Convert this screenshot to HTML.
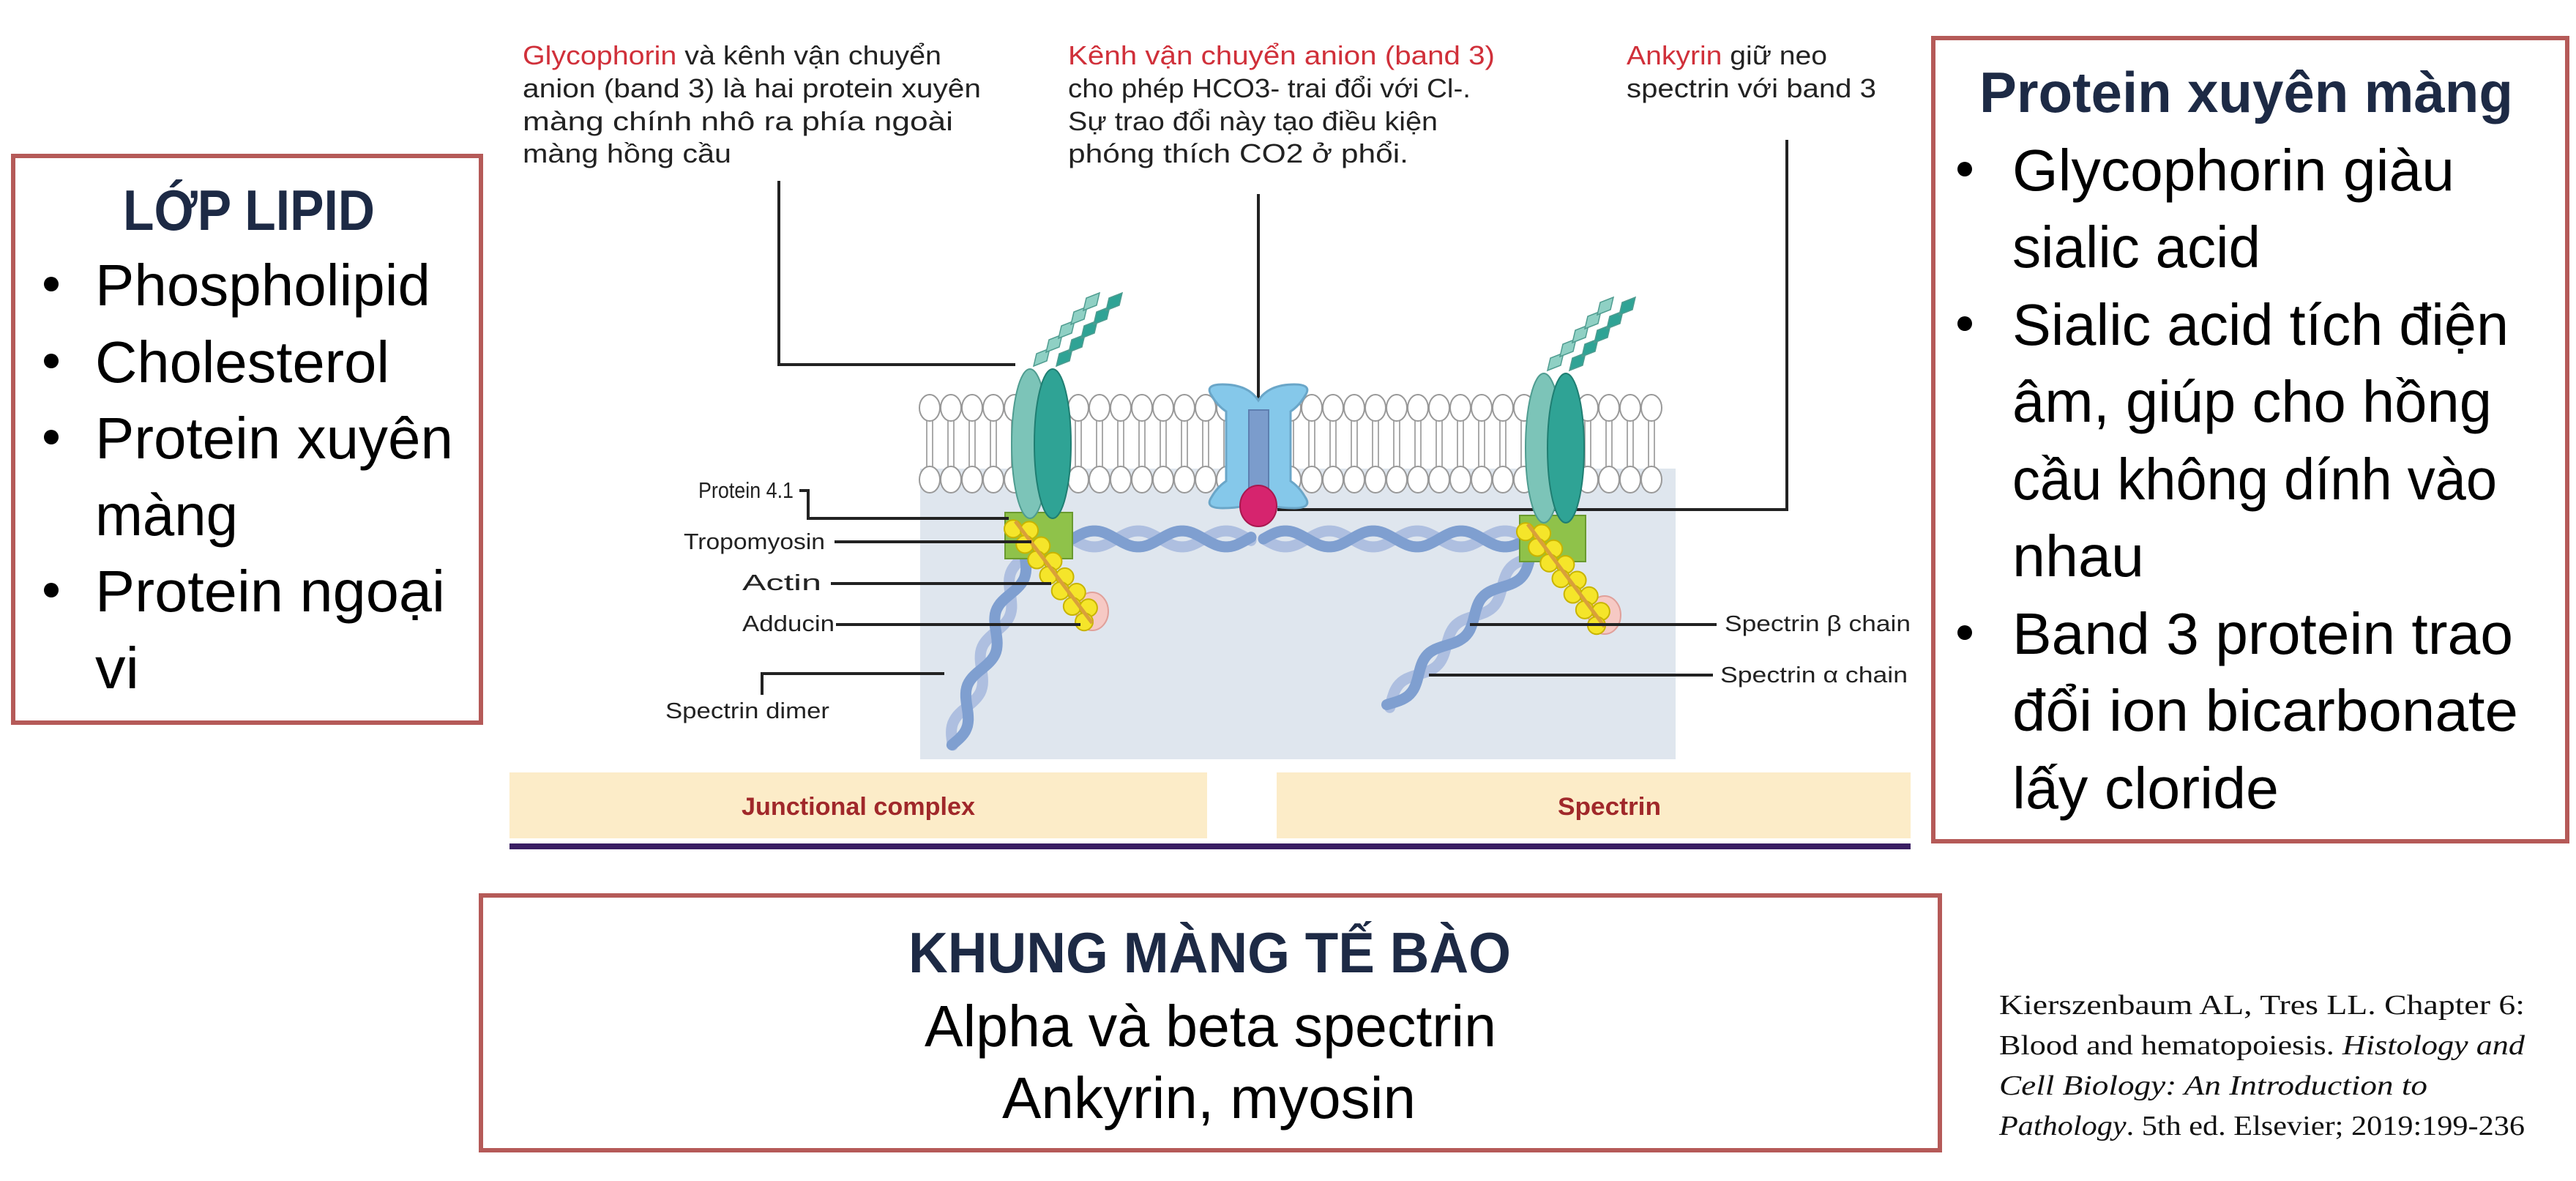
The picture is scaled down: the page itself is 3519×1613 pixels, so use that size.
<!DOCTYPE html>
<html><head><meta charset="utf-8"><style>
html,body{margin:0;padding:0;background:#fff;}
svg{display:block;}
.cal{font-family:"Liberation Sans","DejaVu Sans",sans-serif;}
.nar{font-family:"Liberation Sans","DejaVu Sans",sans-serif;}
.tms{font-family:"Liberation Serif",serif;}
</style></head><body>
<svg id="s" width="3519" height="1613" viewBox="0 0 3519 1613" xmlns="http://www.w3.org/2000/svg">
<rect width="3519" height="1613" fill="#fff"/>

<g>
<rect x="18" y="213" width="639" height="774" fill="#fff" stroke="#b55a58" stroke-width="6"/>
<text class="cal" x="168" y="314" font-size="78" font-weight="bold" fill="#1d2a45" textLength="344" lengthAdjust="spacingAndGlyphs">LỚP LIPID</text>
<g class="cal" font-size="80" fill="#000">
<circle cx="70" cy="388" r="10" fill="#000"/>
<text x="130" y="417" textLength="458" lengthAdjust="spacingAndGlyphs">Phospholipid</text>
<circle cx="70" cy="493" r="10" fill="#000"/>
<text x="130" y="522" textLength="402" lengthAdjust="spacingAndGlyphs">Cholesterol</text>
<circle cx="70" cy="597" r="10" fill="#000"/>
<text x="130" y="626" textLength="489" lengthAdjust="spacingAndGlyphs">Protein xuyên</text>
<text x="130" y="731" textLength="195" lengthAdjust="spacingAndGlyphs">màng</text>
<circle cx="70" cy="806" r="10" fill="#000"/>
<text x="130" y="835" textLength="478" lengthAdjust="spacingAndGlyphs">Protein ngoại</text>
<text x="130" y="940" textLength="60" lengthAdjust="spacingAndGlyphs">vi</text>
</g></g>

<g>
<rect x="2641" y="52" width="866" height="1097" fill="#fff" stroke="#b55a58" stroke-width="6"/>
<text class="cal" x="2704" y="153" font-size="78" font-weight="bold" fill="#1d2a45" textLength="729" lengthAdjust="spacingAndGlyphs">Protein xuyên màng</text>
<g class="cal" font-size="80" fill="#000">
<circle cx="2684" cy="231" r="10"/>
<text x="2749" y="260" textLength="604" lengthAdjust="spacingAndGlyphs">Glycophorin giàu</text>
<text x="2749" y="365" textLength="339" lengthAdjust="spacingAndGlyphs">sialic acid</text>
<circle cx="2684" cy="442" r="10"/>
<text x="2749" y="471" textLength="678" lengthAdjust="spacingAndGlyphs">Sialic acid tích điện</text>
<text x="2749" y="576" textLength="655" lengthAdjust="spacingAndGlyphs">âm, giúp cho hồng</text>
<text x="2749" y="682" textLength="662" lengthAdjust="spacingAndGlyphs">cầu không dính vào</text>
<text x="2749" y="787" textLength="180" lengthAdjust="spacingAndGlyphs">nhau</text>
<circle cx="2684" cy="864" r="10"/>
<text x="2749" y="893" textLength="684" lengthAdjust="spacingAndGlyphs">Band 3 protein trao</text>
<text x="2749" y="998" textLength="691" lengthAdjust="spacingAndGlyphs">đổi ion bicarbonate</text>
<text x="2749" y="1104" textLength="364" lengthAdjust="spacingAndGlyphs">lấy cloride</text>
</g></g>

<g>
<rect x="657" y="1223" width="1993" height="348" fill="#fff" stroke="#b55a58" stroke-width="6"/>
<text class="cal" x="1241" y="1328" font-size="78" font-weight="bold" fill="#1d2a45" textLength="823" lengthAdjust="spacingAndGlyphs">KHUNG MÀNG TẾ BÀO</text>
<text class="cal" x="1263" y="1429" font-size="80" fill="#000" textLength="781" lengthAdjust="spacingAndGlyphs">Alpha và beta spectrin</text>
<text class="cal" x="1369" y="1527" font-size="80" fill="#000" textLength="565" lengthAdjust="spacingAndGlyphs">Ankyrin, myosin</text>
</g>

<g class="tms" font-size="38" fill="#111">
<text x="2731" y="1385" textLength="718" lengthAdjust="spacingAndGlyphs">Kierszenbaum AL, Tres LL. Chapter 6:</text>
<text x="2731" y="1440" textLength="718" lengthAdjust="spacingAndGlyphs">Blood and hematopoiesis. <tspan font-style="italic">Histology and</tspan></text>
<text x="2731" y="1495" textLength="585" lengthAdjust="spacingAndGlyphs" font-style="italic">Cell Biology: An Introduction to</text>
<text x="2731" y="1550" textLength="718" lengthAdjust="spacingAndGlyphs"><tspan font-style="italic">Pathology</tspan>. 5th ed. Elsevier; 2019:199-236</text>
</g>

<g id="diagram">
<rect x="1257" y="640" width="1032" height="397" fill="#dfe6ee"/>
<g id="lipids"></g>

<g class="nar" font-size="36" fill="#222">
<text x="714" y="88" textLength="572" lengthAdjust="spacingAndGlyphs"><tspan fill="#d0303a">Glycophorin</tspan> và kênh vận chuyển</text>
<text x="714" y="133" textLength="626" lengthAdjust="spacingAndGlyphs">anion (band 3) là hai protein xuyên</text>
<text x="714" y="178" textLength="588" lengthAdjust="spacingAndGlyphs">màng chính nhô ra phía ngoài</text>
<text x="714" y="222" textLength="285" lengthAdjust="spacingAndGlyphs">màng hồng cầu</text>
<text x="1459" y="88" textLength="583" lengthAdjust="spacingAndGlyphs" fill="#d0303a">Kênh vận chuyển anion (band 3)</text>
<text x="1459" y="133" textLength="550" lengthAdjust="spacingAndGlyphs">cho phép HCO3- trai đổi với Cl-.</text>
<text x="1459" y="178" textLength="505" lengthAdjust="spacingAndGlyphs">Sự trao đổi này tạo điều kiện</text>
<text x="1459" y="222" textLength="465" lengthAdjust="spacingAndGlyphs">phóng thích CO2 ở phổi.</text>
<text x="2222" y="88" textLength="274" lengthAdjust="spacingAndGlyphs"><tspan fill="#d0303a">Ankyrin</tspan> giữ neo</text>
<text x="2222" y="133" textLength="341" lengthAdjust="spacingAndGlyphs">spectrin với band 3</text>
</g>

<g stroke="#222" stroke-width="4" fill="none">
<polyline points="1064,247 1064,498 1387,498"/>
<line x1="1719" y1="265" x2="1719" y2="560"/>
<polyline points="2441,191 2441,696 1745,696"/>
</g>

<g id="spectrinH"></g>
<g id="spectrinD"></g>

<rect x="1373" y="700" width="92" height="63" fill="#8fc24a" stroke="#6a9a30" stroke-width="2"/>
<rect x="2076" y="704" width="90" height="63" fill="#8fc24a" stroke="#6a9a30" stroke-width="2"/>

<g id="glyco"></g>

<ellipse cx="1492" cy="835" rx="22" ry="26" fill="#f6c9c4" stroke="#e0a09a" stroke-width="2"/>
<ellipse cx="2192" cy="840" rx="22" ry="26" fill="#f6c9c4" stroke="#e0a09a" stroke-width="2"/>
<g id="actin"></g>

<g>
<path d="M1655,540 q-10,-15 15,-15 q35,0 49,22 q14,-22 49,-22 q25,0 15,15 q-8,14 -20,22 l0,95 q12,8 20,22 q10,15 -15,15 q-35,0 -49,-12 q-14,12 -49,12 q-25,0 -15,-15 q8,-14 20,-22 l0,-95 q-12,-8 -20,-22z" fill="#85c8ea" stroke="#6aa6c8" stroke-width="3"/>
<rect x="1706" y="560" width="27" height="112" fill="#7b9ccc" stroke="#5d7fb0" stroke-width="2"/>
<ellipse cx="1719" cy="691" rx="25" ry="28" fill="#d6246e" stroke="#a8184f" stroke-width="2"/>
</g>

<g class="nar" font-size="31" fill="#222">
<text x="954" y="680" textLength="130" lengthAdjust="spacingAndGlyphs">Protein 4.1</text>
<text x="934" y="750" textLength="193" lengthAdjust="spacingAndGlyphs">Tropomyosin</text>
<text x="1014" y="806" textLength="108" lengthAdjust="spacingAndGlyphs">Actin</text>
<text x="1014" y="862" textLength="126" lengthAdjust="spacingAndGlyphs">Adducin</text>
<text x="909" y="981" textLength="224" lengthAdjust="spacingAndGlyphs">Spectrin dimer</text>
<text x="2356" y="862" textLength="254" lengthAdjust="spacingAndGlyphs">Spectrin β chain</text>
<text x="2350" y="932" textLength="256" lengthAdjust="spacingAndGlyphs">Spectrin α chain</text>
</g>
<g stroke="#222" stroke-width="4" fill="none">
<polyline points="1092,670 1104,670 1104,708 1378,708"/>
<line x1="1140" y1="740" x2="1409" y2="740"/>
<line x1="1135" y1="797" x2="1436" y2="797"/>
<line x1="1142" y1="853" x2="1476" y2="853"/>
<polyline points="1041,949 1041,920 1290,920"/>
<line x1="2008" y1="853" x2="2345" y2="853"/>
<line x1="1952" y1="922" x2="2340" y2="922"/>
</g>

<rect x="696" y="1055" width="953" height="90" fill="#fcecc8"/>
<rect x="1744" y="1055" width="866" height="90" fill="#fcecc8"/>
<text class="nar" x="1013" y="1113" font-size="34" font-weight="bold" fill="#a0282a" textLength="319" lengthAdjust="spacingAndGlyphs">Junctional complex</text>
<text class="nar" x="2128" y="1113" font-size="34" font-weight="bold" fill="#a0282a" textLength="141" lengthAdjust="spacingAndGlyphs">Spectrin</text>
<rect x="696" y="1152" width="1914" height="8" fill="#3a1e63"/>
</g>
</svg>
<script>
var NS='http://www.w3.org/2000/svg';
function mk(tag,parent,attrs){var e=document.createElementNS(NS,tag);for(var k in attrs)e.setAttribute(k,attrs[k]);parent.appendChild(e);return e;}
var L=document.getElementById('lipids');
for(var x=1270;x<=2280;x+=29){
  var t1=mk('line',L,{x1:x-4,y1:575,x2:x-4,y2:637,stroke:'#aaa','stroke-width':2});
  
  
  var t2=mk('line',L,{x1:x+4,y1:575,x2:x+4,y2:637,stroke:'#aaa','stroke-width':2});
  
  
  var h1=mk('ellipse',L,{cx:x,cy:557,rx:14,ry:18,fill:'#fff',stroke:'#999','stroke-width':2});
  
  
  var h2=mk('ellipse',L,{cx:x,cy:655,rx:14,ry:18,fill:'#fff',stroke:'#999','stroke-width':2});
  
  
}
function wave(parent,x1,y1,x2,y2,amp,per,phase,color){
  var dx=x2-x1,dy=y2-y1,len=Math.sqrt(dx*dx+dy*dy),ux=dx/len,uy=dy/len,nx=-uy,ny=ux,d='';
  for(var s=0;s<=len;s+=4){var o=amp*Math.sin(s/per*2*Math.PI+phase);d+=(s?'L':'M')+(x1+ux*s+nx*o).toFixed(1)+','+(y1+uy*s+ny*o).toFixed(1);}
  return mk('path',parent,{d:d,fill:'none',stroke:color,'stroke-width':15,'stroke-linecap':'round'});
}
var H=document.getElementById('spectrinH');
[[1465,1712],[1726,2076]].forEach(function(seg){
  var a=wave(H,seg[0],736,seg[1],736,11,120,0,'#aebfe0');
  
  
  var b=wave(H,seg[0],736,seg[1],736,11,120,Math.PI,'#7f9fd0');
  
  
});
var D=document.getElementById('spectrinD');
[[1400,760,1300,1020],[2090,762,1896,965]].forEach(function(s){
  var a=wave(D,s[0],s[1],s[2],s[3],10,110,0,'#aebfe0');
  
  
  var b=wave(D,s[0],s[1],s[2],s[3],10,110,Math.PI,'#7f9fd0');
  
  
});
var G=document.getElementById('glyco');
[[1407,1438,606],[2109,2139,612]].forEach(function(g){
  [[g[0]+4,'#8fd0c4'],[g[1]+4,'#2fa395']].forEach(function(c){
    for(var i=0;i<5;i++){
      var cx=c[0]+12+i*17, cy=g[2]-118-i*19;
      var d='M'+(cx-11)+','+(cy+12)+' L'+(cx+7)+','+(cy+5)+' L'+(cx+11)+','+(cy-12)+' L'+(cx-7)+','+(cy-5)+'Z';
      var dm=mk('path',G,{d:d,fill:c[1],stroke:'#4f9c90','stroke-width':1.5});
      
      
    }
  });
  var e1=mk('ellipse',G,{cx:g[0],cy:g[2],rx:25,ry:102,fill:'#7cc4b8',stroke:'#4f9c90','stroke-width':2});
  
  
  var e2=mk('ellipse',G,{cx:g[1],cy:g[2],rx:25,ry:102,fill:'#2fa395',stroke:'#1f7e72','stroke-width':2});
  
  
});
var A=document.getElementById('actin');
[[1391,718,1488,845],[2091,722,2188,850]].forEach(function(s){
  for(var i=0;i<=12;i++){
    var t=i/12,x=s[0]+(s[2]-s[0])*t,y=s[1]+(s[3]-s[1])*t,o=(i%2?7:-7);
    var b=mk('circle',A,{cx:x+o,cy:y-o*0.6,r:12,fill:'#f5e52a',stroke:'#c8b400','stroke-width':2});
    
    
  }
  var tr=mk('line',A,{x1:s[0]-4,y1:s[1]-6,x2:s[2]+4,y2:s[3]+6,stroke:'#d9a03a','stroke-width':5});
  
  
});
</script>
</body></html>
